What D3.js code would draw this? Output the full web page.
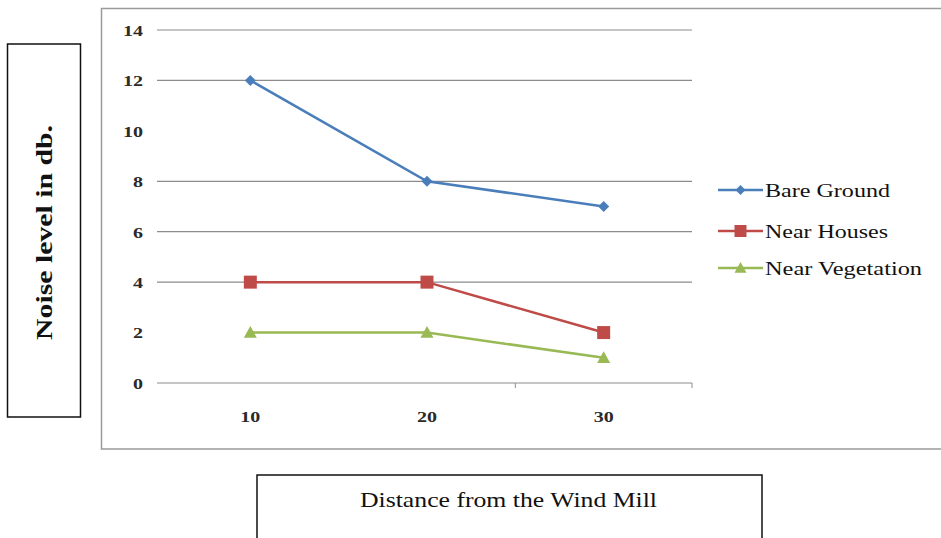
<!DOCTYPE html>
<html><head><meta charset="utf-8">
<script src="https://cdn.jsdelivr.net/npm/d3@7"></script>
<style>body{margin:0;background:#fff}svg{display:block}</style>
</head><body>
<svg id="c" width="941" height="538"></svg>
<script>
const categories = [10, 20, 30];
const bareGround = [12, 8, 7];
const nearHouses = [4, 4, 2];
const nearVegetation = [2, 2, 1];
const seriesNames = ["Bare Ground", "Near Houses", "Near Vegetation"];
const yTicks = [0, 2, 4, 6, 8, 10, 12, 14];
const gridValues = [4, 6, 8, 12, 14];
const yTitle = "Noise level in db.";
const xTitle = "Distance from the Wind Mill";

const series = [
  {name: seriesNames[0], values: bareGround, color: "#4a7ebb", marker: "diamond"},
  {name: seriesNames[1], values: nearHouses, color: "#be4b48", marker: "square"},
  {name: seriesNames[2], values: nearVegetation, color: "#98b954", marker: "triangle"}
];
// rendered text widths (layout)
const legendWidths = [125, 123, 157];

const svg = d3.select("#c");
const serif = "'Liberation Serif','DejaVu Serif',serif";

// outer chart frame
svg.append("rect").attr("x", 101.5).attr("y", 8.5).attr("width", 845).attr("height", 440.5)
  .attr("fill", "#fff").attr("stroke", "#9a9a9a").attr("stroke-width", 1.5);

const x = d3.scaleBand().domain(categories).range([162, 692]);
const y = d3.scaleLinear().domain([0, 14]).range([383, 30]);
const gx0 = 157, gx1 = 692;

// gridlines
svg.append("g").selectAll("line").data(gridValues).join("line")
  .attr("x1", gx0).attr("x2", gx1).attr("y1", d => y(d)).attr("y2", d => y(d))
  .attr("stroke", "#8c8c8c").attr("stroke-width", 1.2);

// x axis line
svg.append("line").attr("x1", gx0).attr("x2", gx1).attr("y1", y(0)).attr("y2", y(0))
  .attr("stroke", "#8c8c8c").attr("stroke-width", 1.2);
// boundary ticks
const bounds = categories.map(c => x(c) + x.bandwidth()).slice(1);
svg.append("g").selectAll("line").data(bounds).join("line")
  .attr("x1", d => d).attr("x2", d => d).attr("y1", y(0)).attr("y2", y(0) + 5)
  .attr("stroke", "#8c8c8c").attr("stroke-width", 1);

// y tick labels
svg.append("g").selectAll("text").data(yTicks).join("text")
  .attr("x", 143).attr("y", d => y(d) + 1).attr("dy", "0.35em")
  .attr("text-anchor", "end").attr("font-family", serif).attr("font-size", 14)
  .attr("font-weight", "bold").attr("fill", "#2a2a2a")
  .attr("textLength", d => String(d).length * 10).attr("lengthAdjust", "spacingAndGlyphs")
  .text(d => d);

// x tick labels
svg.append("g").selectAll("text").data(categories).join("text")
  .attr("x", d => x(d) + x.bandwidth() / 2 - 10).attr("y", 417).attr("dy", "0.35em")
  .attr("font-family", serif).attr("font-size", 14)
  .attr("font-weight", "bold").attr("fill", "#2a2a2a")
  .attr("textLength", 20).attr("lengthAdjust", "spacingAndGlyphs")
  .text(d => d);

function markerPath(type, s) {
  if (type === "diamond") return `M0,${-s}L${s},0L0,${s}L${-s},0Z`;
  if (type === "square") return `M${-s},${-s}H${s}V${s}H${-s}Z`;
  return `M0,${-s}L${s},${s*0.8}L${-s},${s*0.8}Z`;
}
const msize = {diamond: 5.5, square: 6.5, triangle: 6.5};

const line = d3.line().x((d, i) => x(categories[i]) + x.bandwidth() / 2).y(d => y(d));
series.forEach(s => {
  svg.append("path").datum(s.values).attr("d", line)
    .attr("fill", "none").attr("stroke", s.color).attr("stroke-width", 2.5);
  svg.append("g").selectAll("path").data(s.values).join("path")
    .attr("transform", (d, i) => `translate(${x(categories[i]) + x.bandwidth() / 2},${y(d)})`)
    .attr("d", markerPath(s.marker, msize[s.marker])).attr("fill", s.color);
});

// legend
const legendY = [190, 231, 268];
series.forEach((s, i) => {
  const g = svg.append("g").attr("transform", `translate(718,${legendY[i]})`);
  g.append("line").attr("x1", 0).attr("x2", 45).attr("stroke", s.color).attr("stroke-width", 2.5);
  g.append("path").attr("transform", "translate(22.5,0)").attr("d", markerPath(s.marker, msize[s.marker] - 0.5)).attr("fill", s.color);
  g.append("text").attr("x", 47).attr("dy", "0.35em").attr("font-family", serif)
    .attr("font-size", 19).attr("fill", "#111")
    .attr("textLength", legendWidths[i]).attr("lengthAdjust", "spacingAndGlyphs")
    .text(s.name);
});

// y title box
svg.append("rect").attr("x", 7.5).attr("y", 44).attr("width", 73).attr("height", 373)
  .attr("fill", "#fff").attr("stroke", "#111").attr("stroke-width", 1.5);
svg.append("text").attr("transform", "translate(44,340) rotate(-90)")
  .attr("dy", "0.35em").attr("font-family", serif)
  .attr("font-size", 24).attr("font-weight", "bold").attr("fill", "#111")
  .attr("textLength", 215).attr("lengthAdjust", "spacingAndGlyphs")
  .text(yTitle);

// x title box
svg.append("rect").attr("x", 257).attr("y", 475).attr("width", 505).attr("height", 80)
  .attr("fill", "#fff").attr("stroke", "#111").attr("stroke-width", 1.5);
svg.append("text").attr("x", 360).attr("y", 500).attr("dy", "0.35em")
  .attr("font-family", serif)
  .attr("font-size", 21).attr("fill", "#111")
  .attr("textLength", 297).attr("lengthAdjust", "spacingAndGlyphs")
  .text(xTitle);
</script>
</body></html>
